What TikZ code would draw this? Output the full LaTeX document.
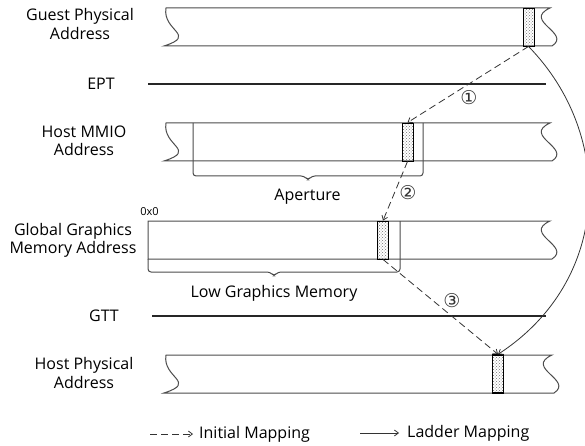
\documentclass[tikz,border=0pt]{standalone}
\usepackage{fontspec}
\setsansfont{Open Sans}
\newfontfamily\circfont{DejaVu Sans}
\usetikzlibrary{arrows.meta, positioning, patterns}

\begin{document}
\begin{tikzpicture}[
    x=1pt, y=-1pt,
    font=\sffamily\fontsize{16}{18.3}\selectfont,
    bar/.style={
        draw=black!70,
        line width=1pt,
        fill=white
    },
    table line/.style={
        draw=black!85,
        line width=1.8pt
    },
    bracket/.style={
        draw=black!70,
        line width=1pt,
        rounded corners=3pt
    },
    block/.style={
        draw=black,
        line width=0.9pt,
        pattern=crosshatch dots,
        pattern color=black!55,
        minimum width=11pt,
        minimum height=38pt,
        inner sep=0pt
    },
    init map/.style={
        -{Straight Barb[length=4pt, width=6pt]},
        line width=0.8pt,
        dash pattern=on 7pt off 4pt,
        draw=black!80
    },
    ladder map/.style={
        -{Straight Barb[length=4pt, width=6pt]},
        line width=0.8pt,
        draw=black!80
    },
    addr label/.style={
        align=center,
        inner sep=0pt
    },
    step num/.style={
        font=\circfont\fontsize{19}{19}\selectfont,
        text=black!80,
        inner sep=0pt
    }
]

    \useasboundingbox (0,0) rectangle (585,446);

    % --- A. GUEST PHYSICAL ADDRESS ---
    \draw[bar] (166,8) -- (550,8) .. controls (522,21) and (572,33) .. (552,46)
        -- (164,46) .. controls (198,35) and (162,31) .. cycle;
    \node[addr label] (gpaLbl) at (80,24) {Guest Physical\\Address};
    \node[block] (gpaBlk) at (528.5,27) {};

    % EPT
    \node[addr label] (eptLbl) at (101,84) {EPT};
    \coordinate (eptA) at (148,84);
    \coordinate (eptB) at (546,84);
    \draw[table line] (eptA) -- (eptB);

    % --- B. HOST MMIO ADDRESS ---
    \draw[bar] (166,123) -- (550,123) .. controls (522,136) and (572,148) .. (552,161)
        -- (164,161) .. controls (198,150) and (162,146) .. cycle;
    \draw[bracket] (193,123) -- (193,176) -- (304,176) -- (308,180) -- (312,176) -- (423,176) -- (423,123);
    \node[addr label] (mmioLbl) at (84,141) {Host MMIO\\Address};
    \node[addr label] (apLbl) at (307.5,197) {Aperture};
    \node[block] (mmioBlk) at (407.5,142) {};

    % --- C. GLOBAL GRAPHICS MEMORY ADDRESS ---
    \draw[bar] (148,221) -- (550,221) .. controls (522,234) and (572,246) .. (552,259)
        -- (148,259) -- cycle;
    \draw[bracket] (148,259) -- (148,272) -- (270,272) -- (274,276) -- (278,272) -- (400,272) -- (400,221);
    \node[addr label, font=\sffamily\fontsize{11}{12}\selectfont] (zeroLbl) at (149.5,212) {0x0};
    \node[addr label] (ggmLbl) at (73,240) {Global Graphics\\Memory Address};
    \node[addr label] (lowLbl) at (274,293) {Low Graphics Memory};
    \node[block] (ggmBlk) at (383,240) {};

    % GTT
    \node[addr label] (gttLbl) at (104,316) {GTT};
    \coordinate (gttA) at (152,316);
    \coordinate (gttB) at (546,316);
    \draw[table line] (gttA) -- (gttB);

    % --- D. HOST PHYSICAL ADDRESS ---
    \draw[bar] (166,355) -- (552,355) .. controls (524,368) and (574,380) .. (554,393)
        -- (164,393) .. controls (198,382) and (162,378) .. cycle;
    \node[addr label] (hpaLbl) at (84,373) {Host Physical\\Address};
    \node[block, line width=1.4pt] (hpaBlk) at (498,374) {};

    % MAPPINGS
    \draw[init map] (gpaBlk.south) -- (mmioBlk.north);
    \node[step num] (oneLbl) at (469,98) {①};
    \draw[init map] (mmioBlk.south) -- (ggmBlk.north);
    \node[step num] (twoLbl) at (408,193) {②};
    \draw[init map] (ggmBlk.south) -- (hpaBlk.north);
    \node[step num] (threeLbl) at (452,301) {③};

    \draw[ladder map] (gpaBlk.south) .. controls (615,135) and (612,280) .. (hpaBlk.north);

    % --- LEGEND ---
    \node[anchor=west, inner sep=0pt] (initTxt) at (199,434) {Initial Mapping};
    \coordinate (initA) at (150,434);
    \draw[init map] (initA) -- ([xshift=-6pt]initTxt.west);

    \node[anchor=west, inner sep=0pt] (ladTxt) at (407,433) {Ladder Mapping};
    \coordinate (ladA) at (360,433);
    \draw[ladder map] (ladA) -- ([xshift=-8pt]ladTxt.west);

\end{tikzpicture}
\end{document}
